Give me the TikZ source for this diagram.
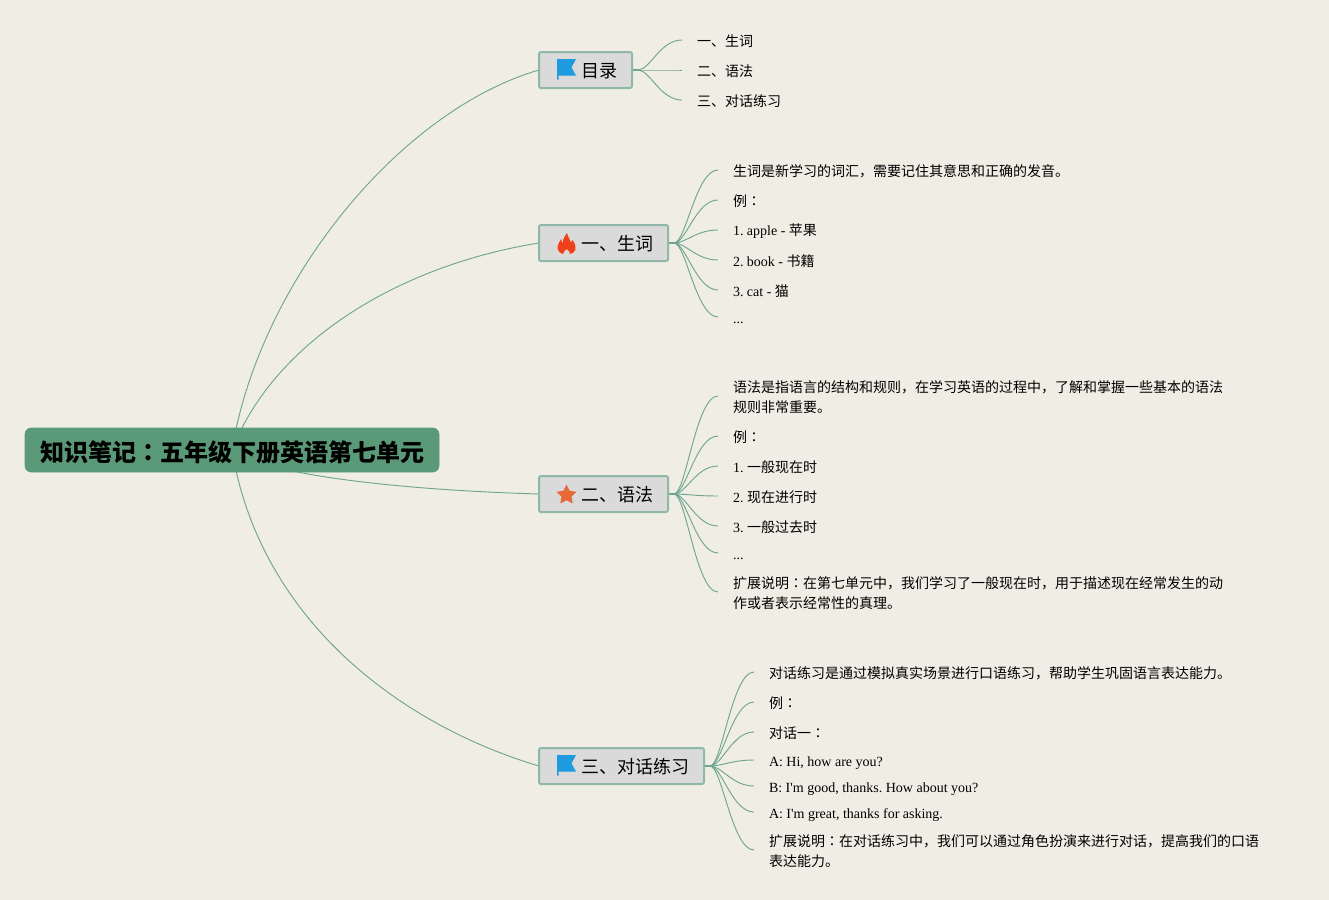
\documentclass[tikz,border=0pt]{standalone}
\usepackage{fontspec}
\usetikzlibrary{backgrounds}
\setmainfont{Liberation Serif}
\newfontfamily\zhf{Noto Sans CJK SC}
\newfontfamily\jpf{Noto Sans CJK JP}
\newcommand\zh[1]{{\zhf #1}}
\newcommand\cln{{\jpf ：}}
\newcommand\ind{\hspace*{11.25pt}}
\newcommand\lat[1]{\vphantom{\zh{例}}#1}
\newcommand\latlow[1]{\rule{0pt}{10.9pt}#1}
\definecolor{bgc}{HTML}{F0EEE4}
\definecolor{edgec}{HTML}{6FA58E}
\definecolor{rootc}{HTML}{5A9A78}
\definecolor{topicf}{HTML}{DADADA}
\definecolor{topicd}{HTML}{8FB8A6}
\definecolor{flagc}{HTML}{1E9AE0}
\definecolor{flamec}{HTML}{F0401A}
\definecolor{starc}{HTML}{E66A38}
\newcommand\topictxt[1]{\hspace*{31.5pt}\zh{#1}\hspace*{11.25pt}}
\tikzset{
  x=0.75pt,y=-0.75pt,
  rootbox/.style={rounded corners=4.5pt,fill=rootc,draw=rootc,inner sep=0pt,outer sep=0pt,minimum width=310.5pt,minimum height=33pt,text height=16.5pt,text depth=0pt,font=\fontsize{18pt}{22pt}\selectfont\zhf\bfseries,text=black},
  topicbox/.style={anchor=west,rounded corners=1.5pt,fill=topicf,draw=topicd,line width=1.5pt,inner sep=0pt,outer sep=0pt,minimum height=27pt,text height=11.7pt,text depth=0pt,font=\fontsize{13.5pt}{16pt}\selectfont,text=black},
  leaf/.style={anchor=west,inner ysep=0pt,inner xsep=0pt,outer sep=0pt,align=left,font=\frenchspacing\fontsize{10.5pt}{15pt}\selectfont,text=black},
  rootedge/.style={draw=edgec,line width=0.7pt},
  branch/.style={draw=edgec,line width=0.7pt},
  stub/.style={draw=edgec,line width=1.4pt},
}
\newcommand\flagicon[2]{\fill[flagc] (#1,#2-11) -- ++(19,0) -- ++(-4.5,8.5) -- ++(4.5,8) -- ++(-17.5,0) -- ++(0,4) -- ++(-1.5,0) -- cycle;}
\begin{document}
\begin{tikzpicture}
\useasboundingbox (0,0) rectangle (1329,900);

\node[rootbox] (root) at (232,450) {\hspace*{1.5pt}知识笔记\cln 五年级下册英语第七单元};

\node[topicbox] (t0) at (539,70) {\topictxt{目录}};
\node[topicbox] (t1) at (539,243) {\topictxt{一、生词}};
\node[topicbox] (t2) at (539,494) {\topictxt{二、语法}};
\node[topicbox] (t3) at (539,766) {\topictxt{三、对话练习}};

% icons
\flagicon{557}{70}
\flagicon{557}{766}
\fill[flamec] (567,233) .. controls (568,237) and (570,239.5) .. (571,242.5)
  .. controls (571.8,242) and (572.3,241) .. (572.5,240)
  .. controls (575,243) and (576,247) .. (575.3,250)
  .. controls (574.6,252) and (572.5,253.5) .. (570,254)
  .. controls (570.8,252) and (568.5,251) .. (566.5,249)
  .. controls (565,251) and (562.5,252) .. (563,254)
  .. controls (559.5,253) and (557,250) .. (557.5,246.5)
  .. controls (558,243.5) and (560,241.5) .. (561,239)
  .. controls (561.5,241) and (562,242.5) .. (563,243)
  .. controls (562.5,239) and (565,236) .. (567,233) -- cycle;
\fill[starc,rounded corners=0.3pt] (566.5,484.5) -- (569.6,490.8) -- (576.5,491.8) -- (571.5,496.6) -- (572.7,503.5) -- (566.5,500.3) -- (560.3,503.5) -- (561.5,496.6) -- (556.5,491.8) -- (563.4,490.8) -- cycle;

% leaves: 目录
\node[leaf] (a1) at (682,41) {\ind\zh{一、生词}};
\node[leaf] (a2) at (682,71) {\ind\zh{二、语法}};
\node[leaf] (a3) at (682,101) {\ind\zh{三、对话练习}};
% leaves: 生词
\node[leaf] (b1) at (718,171) {\ind\zh{生词是新学习的词汇，需要记住其意思和正确的发音。}};
\node[leaf] (b2) at (718,201) {\ind\zh{例\cln}};
\node[leaf] (b3) at (718,231) {\ind\lat{1. apple - }\zh{苹果}};
\node[leaf] (b4) at (718,261) {\ind\lat{2. book - }\zh{书籍}};
\node[leaf] (b5) at (718,291) {\ind\lat{3. cat - }\zh{猫}};
\node[leaf] (b6) at (718,318) {\ind\lat{...}};
% leaves: 语法
\node[leaf] (c1) at (718,397) {\ind\zh{语法是指语言的结构和规则，在学习英语的过程中，了解和掌握一些基本的语法}\\\ind\zh{规则非常重要。}};
\node[leaf] (c2) at (718,437) {\ind\zh{例\cln}};
\node[leaf] (c3) at (718,467) {\ind\lat{1. }\zh{一般现在时}};
\node[leaf] (c4) at (718,497) {\ind\lat{2. }\zh{现在进行时}};
\node[leaf] (c5) at (718,527) {\ind\lat{3. }\zh{一般过去时}};
\node[leaf] (c6) at (718,554) {\ind\lat{...}};
\node[leaf] (c7) at (718,593) {\ind\zh{扩展说明\cln 在第七单元中，我们学习了一般现在时，用于描述现在经常发生的动}\\\ind\zh{作或者表示经常性的真理。}};
% leaves: 对话练习
\node[leaf] (d1) at (754,673) {\ind\zh{对话练习是通过模拟真实场景进行口语练习，帮助学生巩固语言表达能力。}};
\node[leaf] (d2) at (754,703) {\ind\zh{例\cln}};
\node[leaf] (d3) at (754,733) {\ind\zh{对话一\cln}};
\node[leaf] (d4) at (754,761) {\ind\latlow{A: Hi, how are you?}};
\node[leaf] (d5) at (754,787) {\ind\latlow{B: I\textquotesingle m good, thanks. How about you?}};
\node[leaf] (d6) at (754,813) {\ind\latlow{A: I\textquotesingle m great, thanks for asking.}};
\node[leaf] (d7) at (754,851) {\ind\zh{扩展说明\cln 在对话练习中，我们可以通过角色扮演来进行对话，提高我们的口语}\\\ind\zh{表达能力。}};

\begin{scope}[on background layer]
  \fill[bgc] (0,0) rectangle (1329,900);
  \draw[rootedge] (root.center) .. controls +(28,-170) and +(-138,40) .. (t0.west);
  \draw[rootedge] (root.center) .. controls +(43,-110) and +(-138,22) .. (t1.west);
  \draw[rootedge] (root.center) .. controls +(33,25) and +(-138,-4) .. (t2.west);
  \draw[rootedge] (root.center) .. controls +(28,170) and +(-138,-41) .. (t3.west);
  \foreach \l in {a1,a2,a3}
    \draw[branch] ([xshift=4.5pt]t0.east) .. controls +(12,0) and +(-22,0) .. ([yshift=0.75pt]\l.west);
  \foreach \l in {b1,b2,b3,b4,b5,b6}
    \draw[branch] ([xshift=4.5pt]t1.east) .. controls +(12,0) and +(-22,0) .. ([yshift=0.75pt]\l.west);
  \foreach \l in {c1,c2,c3,c4,c5,c6,c7}
    \draw[branch] ([xshift=4.5pt]t2.east) .. controls +(12,0) and +(-22,0) .. ([yshift=0.75pt]\l.west);
  \foreach \l in {d1,d2,d3,d4,d5,d6,d7}
    \draw[branch] ([xshift=4.5pt]t3.east) .. controls +(12,0) and +(-22,0) .. ([yshift=0.75pt]\l.west);
  \draw[stub] (t0.east) -- +(6,0);
  \draw[stub] (t1.east) -- +(6,0);
  \draw[stub] (t2.east) -- +(6,0);
  \draw[stub] (t3.east) -- +(6,0);
\end{scope}
\end{tikzpicture}
\end{document}
